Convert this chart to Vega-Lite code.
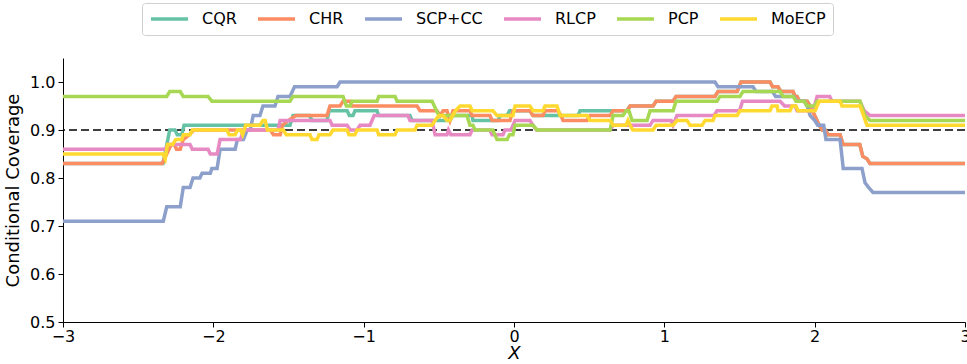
{
  "$schema": "https://vega.github.io/schema/vega-lite/v6.json",
  "width": 902,
  "height": 264,
  "autosize": "none",
  "padding": {"left": 63, "top": 58, "right": 2, "bottom": 42},
  "config": {
    "view": {"stroke": null},
    "font": "DejaVu Sans",
    "axis": {
      "domainColor": "black", "tickColor": "black", "labelColor": "black", "titleColor": "black",
      "labelFont": "DejaVu Sans", "titleFont": "DejaVu Sans",
      "labelFontSize": 16, "titleFontSize": 18, "titleFontWeight": "normal",
      "tickSize": 5, "grid": false, "domainWidth": 1, "tickWidth": 1
    }
  },
  "datasets": {
    "threshold": [{"y": 0.9}],
    "coverage": [
      {"s":"CQR","x":-3,"y":0.83},{"s":"CQR","x":-2.335,"y":0.83},{"s":"CQR","x":-2.29,"y":0.90},{"s":"CQR","x":-2.255,"y":0.90},{"s":"CQR","x":-2.24,"y":0.89},{"s":"CQR","x":-2.21,"y":0.89},{"s":"CQR","x":-2.195,"y":0.91},{"s":"CQR","x":-1.49,"y":0.91},{"s":"CQR","x":-1.47,"y":0.93},{"s":"CQR","x":-1.36,"y":0.93},{"s":"CQR","x":-1.344,"y":0.92},{"s":"CQR","x":-1.244,"y":0.92},{"s":"CQR","x":-1.23,"y":0.94},{"s":"CQR","x":-1.11,"y":0.94},{"s":"CQR","x":-1.095,"y":0.93},{"s":"CQR","x":-1.071,"y":0.93},{"s":"CQR","x":-1.058,"y":0.94},{"s":"CQR","x":-0.911,"y":0.94},{"s":"CQR","x":-0.9,"y":0.93},{"s":"CQR","x":-0.692,"y":0.93},{"s":"CQR","x":-0.678,"y":0.92},{"s":"CQR","x":-0.426,"y":0.92},{"s":"CQR","x":-0.406,"y":0.93},{"s":"CQR","x":-0.279,"y":0.93},{"s":"CQR","x":-0.273,"y":0.92},{"s":"CQR","x":-0.105,"y":0.92},{"s":"CQR","x":-0.093,"y":0.93},{"s":"CQR","x":-0.046,"y":0.93},{"s":"CQR","x":-0.03,"y":0.94},{"s":"CQR","x":0.106,"y":0.94},{"s":"CQR","x":0.126,"y":0.93},{"s":"CQR","x":0.426,"y":0.93},{"s":"CQR","x":0.439,"y":0.94},{"s":"CQR","x":0.752,"y":0.94},{"s":"CQR","x":0.772,"y":0.95},{"s":"CQR","x":0.925,"y":0.95},{"s":"CQR","x":0.945,"y":0.96},{"s":"CQR","x":1.058,"y":0.96},{"s":"CQR","x":1.078,"y":0.97},{"s":"CQR","x":1.337,"y":0.97},{"s":"CQR","x":1.357,"y":0.98},{"s":"CQR","x":1.484,"y":0.98},{"s":"CQR","x":1.51,"y":1.0},{"s":"CQR","x":1.703,"y":1.0},{"s":"CQR","x":1.72,"y":0.99},{"s":"CQR","x":1.756,"y":0.99},{"s":"CQR","x":1.776,"y":0.98},{"s":"CQR","x":1.856,"y":0.98},{"s":"CQR","x":1.87,"y":0.97},{"s":"CQR","x":1.883,"y":0.97},{"s":"CQR","x":1.9,"y":0.96},{"s":"CQR","x":1.95,"y":0.96},{"s":"CQR","x":1.97,"y":0.95},{"s":"CQR","x":2.0,"y":0.93},{"s":"CQR","x":2.03,"y":0.91},{"s":"CQR","x":2.05,"y":0.90},{"s":"CQR","x":2.07,"y":0.90},{"s":"CQR","x":2.09,"y":0.89},{"s":"CQR","x":2.169,"y":0.89},{"s":"CQR","x":2.189,"y":0.87},{"s":"CQR","x":2.3,"y":0.87},{"s":"CQR","x":2.32,"y":0.845},{"s":"CQR","x":2.348,"y":0.84},{"s":"CQR","x":2.368,"y":0.83},{"s":"CQR","x":3,"y":0.83},

      {"s":"CHR","x":-3,"y":0.83},{"s":"CHR","x":-2.34,"y":0.83},{"s":"CHR","x":-2.28,"y":0.87},{"s":"CHR","x":-2.26,"y":0.87},{"s":"CHR","x":-2.245,"y":0.86},{"s":"CHR","x":-2.22,"y":0.86},{"s":"CHR","x":-2.2,"y":0.88},{"s":"CHR","x":-2.16,"y":0.89},{"s":"CHR","x":-2.13,"y":0.90},{"s":"CHR","x":-1.62,"y":0.90},{"s":"CHR","x":-1.6,"y":0.89},{"s":"CHR","x":-1.555,"y":0.89},{"s":"CHR","x":-1.54,"y":0.91},{"s":"CHR","x":-1.5,"y":0.92},{"s":"CHR","x":-1.45,"y":0.93},{"s":"CHR","x":-1.244,"y":0.93},{"s":"CHR","x":-1.224,"y":0.95},{"s":"CHR","x":-1.157,"y":0.95},{"s":"CHR","x":-1.137,"y":0.96},{"s":"CHR","x":-1.09,"y":0.96},{"s":"CHR","x":-1.078,"y":0.95},{"s":"CHR","x":-0.645,"y":0.95},{"s":"CHR","x":-0.625,"y":0.94},{"s":"CHR","x":-0.512,"y":0.94},{"s":"CHR","x":-0.492,"y":0.93},{"s":"CHR","x":-0.472,"y":0.94},{"s":"CHR","x":-0.446,"y":0.94},{"s":"CHR","x":-0.426,"y":0.92},{"s":"CHR","x":-0.406,"y":0.94},{"s":"CHR","x":-0.293,"y":0.94},{"s":"CHR","x":-0.279,"y":0.93},{"s":"CHR","x":-0.16,"y":0.93},{"s":"CHR","x":-0.146,"y":0.92},{"s":"CHR","x":-0.027,"y":0.92},{"s":"CHR","x":-0.007,"y":0.94},{"s":"CHR","x":0.106,"y":0.94},{"s":"CHR","x":0.126,"y":0.93},{"s":"CHR","x":0.193,"y":0.93},{"s":"CHR","x":0.206,"y":0.94},{"s":"CHR","x":0.293,"y":0.94},{"s":"CHR","x":0.313,"y":0.93},{"s":"CHR","x":0.326,"y":0.92},{"s":"CHR","x":0.486,"y":0.92},{"s":"CHR","x":0.506,"y":0.93},{"s":"CHR","x":0.639,"y":0.93},{"s":"CHR","x":0.659,"y":0.94},{"s":"CHR","x":0.752,"y":0.94},{"s":"CHR","x":0.772,"y":0.95},{"s":"CHR","x":0.925,"y":0.95},{"s":"CHR","x":0.945,"y":0.96},{"s":"CHR","x":1.058,"y":0.96},{"s":"CHR","x":1.078,"y":0.97},{"s":"CHR","x":1.337,"y":0.97},{"s":"CHR","x":1.357,"y":0.98},{"s":"CHR","x":1.484,"y":0.98},{"s":"CHR","x":1.51,"y":1.0},{"s":"CHR","x":1.703,"y":1.0},{"s":"CHR","x":1.72,"y":0.99},{"s":"CHR","x":1.756,"y":0.99},{"s":"CHR","x":1.776,"y":0.98},{"s":"CHR","x":1.856,"y":0.98},{"s":"CHR","x":1.87,"y":0.97},{"s":"CHR","x":1.883,"y":0.97},{"s":"CHR","x":1.9,"y":0.96},{"s":"CHR","x":1.95,"y":0.96},{"s":"CHR","x":1.97,"y":0.95},{"s":"CHR","x":2.0,"y":0.93},{"s":"CHR","x":2.03,"y":0.91},{"s":"CHR","x":2.05,"y":0.90},{"s":"CHR","x":2.07,"y":0.90},{"s":"CHR","x":2.09,"y":0.89},{"s":"CHR","x":2.169,"y":0.89},{"s":"CHR","x":2.189,"y":0.87},{"s":"CHR","x":2.3,"y":0.87},{"s":"CHR","x":2.32,"y":0.845},{"s":"CHR","x":2.348,"y":0.84},{"s":"CHR","x":2.368,"y":0.83},{"s":"CHR","x":3,"y":0.83},

      {"s":"SCP+CC","x":-3,"y":0.71},{"s":"SCP+CC","x":-2.333,"y":0.71},{"s":"SCP+CC","x":-2.31,"y":0.74},{"s":"SCP+CC","x":-2.22,"y":0.74},{"s":"SCP+CC","x":-2.2,"y":0.78},{"s":"SCP+CC","x":-2.155,"y":0.78},{"s":"SCP+CC","x":-2.135,"y":0.80},{"s":"SCP+CC","x":-2.09,"y":0.80},{"s":"SCP+CC","x":-2.075,"y":0.81},{"s":"SCP+CC","x":-2.02,"y":0.81},{"s":"SCP+CC","x":-2.01,"y":0.82},{"s":"SCP+CC","x":-1.975,"y":0.82},{"s":"SCP+CC","x":-1.955,"y":0.86},{"s":"SCP+CC","x":-1.855,"y":0.86},{"s":"SCP+CC","x":-1.84,"y":0.88},{"s":"SCP+CC","x":-1.8,"y":0.88},{"s":"SCP+CC","x":-1.775,"y":0.90},{"s":"SCP+CC","x":-1.755,"y":0.90},{"s":"SCP+CC","x":-1.735,"y":0.93},{"s":"SCP+CC","x":-1.69,"y":0.93},{"s":"SCP+CC","x":-1.67,"y":0.95},{"s":"SCP+CC","x":-1.59,"y":0.95},{"s":"SCP+CC","x":-1.57,"y":0.97},{"s":"SCP+CC","x":-1.49,"y":0.97},{"s":"SCP+CC","x":-1.46,"y":0.99},{"s":"SCP+CC","x":-1.177,"y":0.99},{"s":"SCP+CC","x":-1.157,"y":1.0},{"s":"SCP+CC","x":1.337,"y":1.0},{"s":"SCP+CC","x":1.357,"y":0.99},{"s":"SCP+CC","x":1.59,"y":0.99},{"s":"SCP+CC","x":1.61,"y":0.98},{"s":"SCP+CC","x":1.72,"y":0.98},{"s":"SCP+CC","x":1.74,"y":0.97},{"s":"SCP+CC","x":1.86,"y":0.97},{"s":"SCP+CC","x":1.88,"y":0.96},{"s":"SCP+CC","x":1.93,"y":0.96},{"s":"SCP+CC","x":1.95,"y":0.95},{"s":"SCP+CC","x":1.97,"y":0.93},{"s":"SCP+CC","x":2.0,"y":0.92},{"s":"SCP+CC","x":2.02,"y":0.91},{"s":"SCP+CC","x":2.06,"y":0.91},{"s":"SCP+CC","x":2.075,"y":0.88},{"s":"SCP+CC","x":2.169,"y":0.88},{"s":"SCP+CC","x":2.19,"y":0.82},{"s":"SCP+CC","x":2.315,"y":0.82},{"s":"SCP+CC","x":2.335,"y":0.79},{"s":"SCP+CC","x":2.36,"y":0.78},{"s":"SCP+CC","x":2.388,"y":0.77},{"s":"SCP+CC","x":3,"y":0.77},

      {"s":"RLCP","x":-3,"y":0.86},{"s":"RLCP","x":-2.32,"y":0.86},{"s":"RLCP","x":-2.3,"y":0.87},{"s":"RLCP","x":-2.155,"y":0.87},{"s":"RLCP","x":-2.14,"y":0.86},{"s":"RLCP","x":-2.035,"y":0.86},{"s":"RLCP","x":-2.02,"y":0.85},{"s":"RLCP","x":-1.975,"y":0.85},{"s":"RLCP","x":-1.955,"y":0.88},{"s":"RLCP","x":-1.82,"y":0.88},{"s":"RLCP","x":-1.8,"y":0.90},{"s":"RLCP","x":-1.57,"y":0.90},{"s":"RLCP","x":-1.555,"y":0.92},{"s":"RLCP","x":-1.224,"y":0.92},{"s":"RLCP","x":-1.21,"y":0.91},{"s":"RLCP","x":-1.11,"y":0.91},{"s":"RLCP","x":-1.09,"y":0.90},{"s":"RLCP","x":-1.044,"y":0.90},{"s":"RLCP","x":-1.024,"y":0.91},{"s":"RLCP","x":-0.958,"y":0.91},{"s":"RLCP","x":-0.93,"y":0.93},{"s":"RLCP","x":-0.705,"y":0.93},{"s":"RLCP","x":-0.692,"y":0.92},{"s":"RLCP","x":-0.545,"y":0.92},{"s":"RLCP","x":-0.525,"y":0.89},{"s":"RLCP","x":-0.446,"y":0.89},{"s":"RLCP","x":-0.436,"y":0.90},{"s":"RLCP","x":-0.42,"y":0.89},{"s":"RLCP","x":-0.293,"y":0.89},{"s":"RLCP","x":-0.279,"y":0.90},{"s":"RLCP","x":-0.16,"y":0.90},{"s":"RLCP","x":-0.146,"y":0.89},{"s":"RLCP","x":-0.073,"y":0.89},{"s":"RLCP","x":-0.06,"y":0.90},{"s":"RLCP","x":-0.02,"y":0.90},{"s":"RLCP","x":0.007,"y":0.92},{"s":"RLCP","x":0.106,"y":0.92},{"s":"RLCP","x":0.126,"y":0.91},{"s":"RLCP","x":0.15,"y":0.90},{"s":"RLCP","x":0.639,"y":0.90},{"s":"RLCP","x":0.66,"y":0.91},{"s":"RLCP","x":0.905,"y":0.91},{"s":"RLCP","x":0.925,"y":0.92},{"s":"RLCP","x":1.045,"y":0.92},{"s":"RLCP","x":1.058,"y":0.91},{"s":"RLCP","x":1.084,"y":0.93},{"s":"RLCP","x":1.33,"y":0.93},{"s":"RLCP","x":1.35,"y":0.94},{"s":"RLCP","x":1.5,"y":0.94},{"s":"RLCP","x":1.52,"y":0.96},{"s":"RLCP","x":1.77,"y":0.96},{"s":"RLCP","x":1.8,"y":0.95},{"s":"RLCP","x":1.87,"y":0.95},{"s":"RLCP","x":1.883,"y":0.94},{"s":"RLCP","x":1.99,"y":0.94},{"s":"RLCP","x":2.016,"y":0.97},{"s":"RLCP","x":2.1,"y":0.97},{"s":"RLCP","x":2.115,"y":0.96},{"s":"RLCP","x":2.3,"y":0.96},{"s":"RLCP","x":2.33,"y":0.94},{"s":"RLCP","x":2.368,"y":0.93},{"s":"RLCP","x":3,"y":0.93},

      {"s":"PCP","x":-3,"y":0.97},{"s":"PCP","x":-2.31,"y":0.97},{"s":"PCP","x":-2.29,"y":0.98},{"s":"PCP","x":-2.22,"y":0.98},{"s":"PCP","x":-2.2,"y":0.97},{"s":"PCP","x":-2.035,"y":0.97},{"s":"PCP","x":-2.01,"y":0.96},{"s":"PCP","x":-1.49,"y":0.96},{"s":"PCP","x":-1.47,"y":0.97},{"s":"PCP","x":-1.137,"y":0.97},{"s":"PCP","x":-1.115,"y":0.95},{"s":"PCP","x":-1.09,"y":0.95},{"s":"PCP","x":-1.078,"y":0.96},{"s":"PCP","x":-0.911,"y":0.96},{"s":"PCP","x":-0.9,"y":0.97},{"s":"PCP","x":-0.791,"y":0.97},{"s":"PCP","x":-0.778,"y":0.96},{"s":"PCP","x":-0.545,"y":0.96},{"s":"PCP","x":-0.5,"y":0.93},{"s":"PCP","x":-0.313,"y":0.93},{"s":"PCP","x":-0.293,"y":0.91},{"s":"PCP","x":-0.273,"y":0.91},{"s":"PCP","x":-0.259,"y":0.90},{"s":"PCP","x":-0.14,"y":0.90},{"s":"PCP","x":-0.113,"y":0.88},{"s":"PCP","x":-0.046,"y":0.88},{"s":"PCP","x":-0.03,"y":0.89},{"s":"PCP","x":-0.007,"y":0.89},{"s":"PCP","x":0.007,"y":0.91},{"s":"PCP","x":0.126,"y":0.91},{"s":"PCP","x":0.153,"y":0.90},{"s":"PCP","x":0.639,"y":0.90},{"s":"PCP","x":0.659,"y":0.93},{"s":"PCP","x":0.725,"y":0.93},{"s":"PCP","x":0.745,"y":0.94},{"s":"PCP","x":0.765,"y":0.94},{"s":"PCP","x":0.785,"y":0.92},{"s":"PCP","x":0.885,"y":0.92},{"s":"PCP","x":0.905,"y":0.94},{"s":"PCP","x":1.058,"y":0.94},{"s":"PCP","x":1.078,"y":0.96},{"s":"PCP","x":1.35,"y":0.96},{"s":"PCP","x":1.37,"y":0.97},{"s":"PCP","x":1.503,"y":0.97},{"s":"PCP","x":1.523,"y":0.98},{"s":"PCP","x":1.77,"y":0.98},{"s":"PCP","x":1.79,"y":0.97},{"s":"PCP","x":1.856,"y":0.97},{"s":"PCP","x":1.876,"y":0.96},{"s":"PCP","x":1.93,"y":0.96},{"s":"PCP","x":1.95,"y":0.95},{"s":"PCP","x":2.0,"y":0.95},{"s":"PCP","x":2.016,"y":0.96},{"s":"PCP","x":2.302,"y":0.96},{"s":"PCP","x":2.335,"y":0.93},{"s":"PCP","x":2.368,"y":0.92},{"s":"PCP","x":3,"y":0.92},

      {"s":"MoECP","x":-3,"y":0.85},{"s":"MoECP","x":-2.335,"y":0.85},{"s":"MoECP","x":-2.32,"y":0.84},{"s":"MoECP","x":-2.305,"y":0.87},{"s":"MoECP","x":-2.27,"y":0.87},{"s":"MoECP","x":-2.25,"y":0.88},{"s":"MoECP","x":-2.21,"y":0.88},{"s":"MoECP","x":-2.2,"y":0.89},{"s":"MoECP","x":-2.155,"y":0.89},{"s":"MoECP","x":-2.14,"y":0.90},{"s":"MoECP","x":-1.91,"y":0.90},{"s":"MoECP","x":-1.895,"y":0.89},{"s":"MoECP","x":-1.855,"y":0.89},{"s":"MoECP","x":-1.84,"y":0.90},{"s":"MoECP","x":-1.82,"y":0.90},{"s":"MoECP","x":-1.805,"y":0.89},{"s":"MoECP","x":-1.785,"y":0.91},{"s":"MoECP","x":-1.69,"y":0.91},{"s":"MoECP","x":-1.67,"y":0.92},{"s":"MoECP","x":-1.655,"y":0.92},{"s":"MoECP","x":-1.64,"y":0.90},{"s":"MoECP","x":-1.535,"y":0.90},{"s":"MoECP","x":-1.515,"y":0.89},{"s":"MoECP","x":-1.357,"y":0.89},{"s":"MoECP","x":-1.344,"y":0.88},{"s":"MoECP","x":-1.31,"y":0.88},{"s":"MoECP","x":-1.297,"y":0.89},{"s":"MoECP","x":-1.224,"y":0.89},{"s":"MoECP","x":-1.204,"y":0.90},{"s":"MoECP","x":-1.11,"y":0.90},{"s":"MoECP","x":-1.098,"y":0.89},{"s":"MoECP","x":-1.058,"y":0.89},{"s":"MoECP","x":-1.044,"y":0.90},{"s":"MoECP","x":-0.911,"y":0.90},{"s":"MoECP","x":-0.9,"y":0.89},{"s":"MoECP","x":-0.791,"y":0.89},{"s":"MoECP","x":-0.778,"y":0.90},{"s":"MoECP","x":-0.658,"y":0.90},{"s":"MoECP","x":-0.645,"y":0.91},{"s":"MoECP","x":-0.545,"y":0.91},{"s":"MoECP","x":-0.525,"y":0.92},{"s":"MoECP","x":-0.5,"y":0.93},{"s":"MoECP","x":-0.472,"y":0.93},{"s":"MoECP","x":-0.446,"y":0.92},{"s":"MoECP","x":-0.426,"y":0.92},{"s":"MoECP","x":-0.39,"y":0.94},{"s":"MoECP","x":-0.359,"y":0.95},{"s":"MoECP","x":-0.293,"y":0.95},{"s":"MoECP","x":-0.279,"y":0.94},{"s":"MoECP","x":-0.14,"y":0.94},{"s":"MoECP","x":-0.113,"y":0.93},{"s":"MoECP","x":-0.007,"y":0.93},{"s":"MoECP","x":0.007,"y":0.95},{"s":"MoECP","x":0.106,"y":0.95},{"s":"MoECP","x":0.126,"y":0.94},{"s":"MoECP","x":0.193,"y":0.94},{"s":"MoECP","x":0.206,"y":0.95},{"s":"MoECP","x":0.286,"y":0.95},{"s":"MoECP","x":0.306,"y":0.93},{"s":"MoECP","x":0.486,"y":0.93},{"s":"MoECP","x":0.506,"y":0.92},{"s":"MoECP","x":0.639,"y":0.92},{"s":"MoECP","x":0.659,"y":0.91},{"s":"MoECP","x":0.745,"y":0.91},{"s":"MoECP","x":0.758,"y":0.92},{"s":"MoECP","x":0.772,"y":0.91},{"s":"MoECP","x":0.79,"y":0.90},{"s":"MoECP","x":0.925,"y":0.90},{"s":"MoECP","x":0.945,"y":0.91},{"s":"MoECP","x":1.058,"y":0.91},{"s":"MoECP","x":1.084,"y":0.92},{"s":"MoECP","x":1.151,"y":0.92},{"s":"MoECP","x":1.171,"y":0.91},{"s":"MoECP","x":1.251,"y":0.91},{"s":"MoECP","x":1.271,"y":0.92},{"s":"MoECP","x":1.324,"y":0.92},{"s":"MoECP","x":1.337,"y":0.93},{"s":"MoECP","x":1.484,"y":0.93},{"s":"MoECP","x":1.503,"y":0.94},{"s":"MoECP","x":1.703,"y":0.94},{"s":"MoECP","x":1.716,"y":0.95},{"s":"MoECP","x":1.75,"y":0.95},{"s":"MoECP","x":1.756,"y":0.94},{"s":"MoECP","x":1.836,"y":0.94},{"s":"MoECP","x":1.849,"y":0.95},{"s":"MoECP","x":1.876,"y":0.95},{"s":"MoECP","x":1.889,"y":0.94},{"s":"MoECP","x":2.003,"y":0.94},{"s":"MoECP","x":2.03,"y":0.96},{"s":"MoECP","x":2.169,"y":0.96},{"s":"MoECP","x":2.182,"y":0.95},{"s":"MoECP","x":2.302,"y":0.95},{"s":"MoECP","x":2.348,"y":0.91},{"s":"MoECP","x":3,"y":0.91}
    ]
  },
  "layer": [
    {
      "data": {"name": "threshold"},
      "mark": {"type": "rule", "color": "black", "strokeWidth": 1.5, "strokeDash": [8, 4]},
      "encoding": {
        "y": {"field": "y", "type": "quantitative"}
      }
    },
    {
      "data": {"name": "coverage"},
      "mark": {"type": "line", "strokeWidth": 3.5, "interpolate": "linear", "clip": true},
      "encoding": {
        "x": {
          "field": "x", "type": "quantitative",
          "scale": {"domain": [-3, 3], "nice": false},
          "axis": {"values": [-3, -2, -1, 0, 1, 2, 3], "title": "X", "titleFontStyle": "italic", "labelFlush": false, "labelPadding": 1, "titlePadding": 0, "format": "d"}
        },
        "y": {
          "field": "y", "type": "quantitative",
          "scale": {"domain": [0.5, 1.05], "nice": false, "zero": false},
          "axis": {"values": [0.5, 0.6, 0.7, 0.8, 0.9, 1.0], "format": ".1f", "title": "Conditional Coverage", "labelPadding": 3, "titlePadding": 7}
        },
        "color": {
          "field": "s", "type": "nominal",
          "scale": {
            "domain": ["CQR", "CHR", "SCP+CC", "RLCP", "PCP", "MoECP"],
            "range": ["#66c2a5", "#fc8d62", "#8da0cb", "#e78ac3", "#a6d854", "#ffd92f"]
          },
          "legend": {
            "orient": "none", "legendX": 79, "legendY": -55, "direction": "horizontal", "columns": 6,
            "title": null, "symbolType": "stroke", "symbolSize": 1369, "symbolStrokeWidth": 3.5,
            "clipHeight": 18, "labelFontSize": 16, "labelFont": "DejaVu Sans", "labelColor": "black",
            "labelOffset": 12, "columnPadding": 19, "padding": 7,
            "strokeColor": "#d0d0d0", "fillColor": "white", "cornerRadius": 3
          }
        }
      }
    }
  ]
}
